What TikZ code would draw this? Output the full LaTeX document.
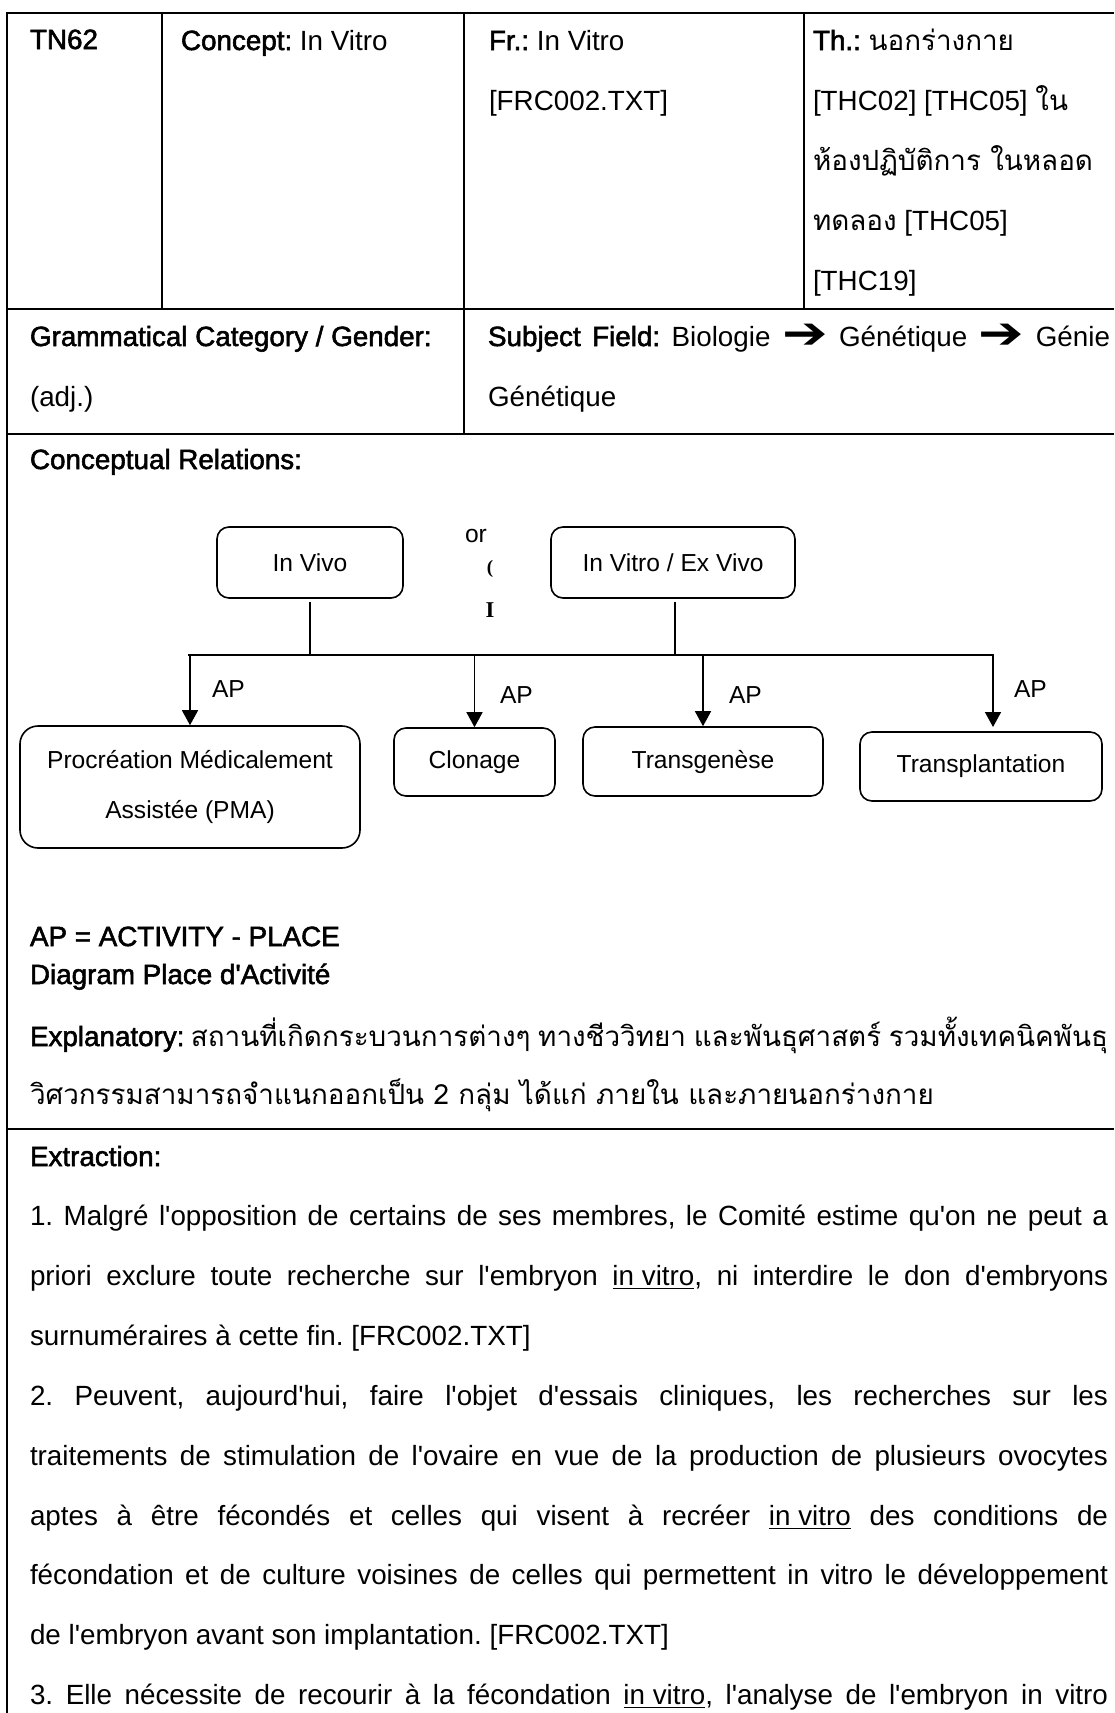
\documentclass[tikz,border=0pt]{standalone}
\usepackage{fontspec}
\usepackage{graphicx}
\usetikzlibrary{arrows.meta}
\setmainfont{Liberation Sans}[Ligatures=TeXOff]
\newfontfamily\lblfont{Liberation Sans}[Ligatures=TeXOff,FakeBold=2]
\newfontfamily\thai[Script=Thai]{Loma}
\newfontfamily\dingfont{DejaVu Sans}
\newfontfamily\oddserif{Liberation Serif}
\newcommand\bodysize{\fontsize{13.9pt}{16pt}\selectfont}
\newcommand\diagsize{\fontsize{12.3pt}{25pt}\selectfont}
\newcommand\headtxt[1]{{\lblfont #1}}
\newcommand\fieldarrow{\raisebox{-1pt}{\scalebox{1.6}[1.3]{\dingfont\bfseries\fontsize{17pt}{17pt}\selectfont ➔}}}
\newcommand\jline[1]{\makebox[539pt][s]{#1}}
\frenchspacing

\begin{document}
\begin{tikzpicture}[x=0.5pt,y=-0.5pt,
  rule/.style={line width=0.85pt},
  txt/.style={anchor=base west,inner sep=0pt,outer sep=0pt,font=\bodysize},
  dtxt/.style={anchor=base west,inner sep=0pt,outer sep=0pt,font=\diagsize},
  concept/.style={draw,line width=0.8pt,rounded corners=6pt,inner sep=0pt,
    align=center,font=\diagsize},
  wire/.style={line width=0.75pt},
  bus/.style={line width=1.1pt},
  drop/.style={line width=0.75pt,-{Triangle[length=7.5pt,width=8pt]}},
]
\useasboundingbox (0,0) rectangle (1114,1713);

% ---- table frame ----
\draw[rule] (1114,13) -- (7,13) -- (7,1713);
\draw[rule] (7,309) -- (1114,309);
\draw[rule] (7,434) -- (1114,434);
\draw[rule] (7,1129) -- (1114,1129);
\draw[rule] (162,13) -- (162,309);
\draw[rule] (464,13) -- (464,434);
\draw[rule] (804,13) -- (804,309);

% ---- row 1 ----
\node[txt] (tn) at (30,49) {\headtxt{TN62}};
\node[txt] (concepttxt) at (181,50) {\headtxt{Concept:} In Vitro};
\node[txt] (fr1) at (489,50) {\headtxt{Fr.:} In Vitro};
\node[txt] (fr2) at (489,110) {[FRC002.TXT]};
\node[txt] (th1) at (813,50) {\headtxt{Th.:} {\thai นอกร่างกาย}};
\node[txt] (th2) at (813,110) {[THC02] [THC05] {\thai ใน}};
\node[txt] (th3) at (813,170) {\thai ห้องปฏิบัติการ ในหลอด};
\node[txt] (th4) at (813,230) {{\thai ทดลอง} [THC05]};
\node[txt] (th5) at (813,290) {[THC19]};

% ---- row 2 ----
\node[txt] (gc1) at (30,346) {\headtxt{Grammatical Category / Gender:}};
\node[txt] (gc2) at (30,406) {(adj.)};
\node[txt] (sf1) at (488,346) {\makebox[311pt][s]{\headtxt{Subject Field:} Biologie \fieldarrow{} Génétique \fieldarrow{} Génie}};
\node[txt] (sf2) at (488,406) {Génétique};

% ---- row 3: conceptual relations ----
\node[txt] (cr) at (30,469) {\headtxt{Conceptual Relations:}};

\node[concept,minimum width=93pt,minimum height=35.5pt] (invivo) at (310,562.5) {In Vivo};
\node[concept,minimum width=122pt,minimum height=35.5pt] (invitro) at (673,562.5) {In Vitro / Ex Vivo};
\node[dtxt] (orword) at (465,542) {or};
\node[inner sep=0pt,font={\oddserif\bfseries\fontsize{9.5pt}{10pt}\selectfont}] (orparen) at (490,569) {(};
\node[inner sep=0pt,font={\oddserif\bfseries\fontsize{11.3pt}{12pt}\selectfont}] (orbar) at (490,610) {I};

\node[concept,minimum width=170pt,minimum height=61pt,rounded corners=9pt] (pma) at (190,787)
  {Procréation Médicalement\\Assistée (PMA)};
\node[concept,minimum width=80.5pt,minimum height=34pt] (clonage) at (474.5,762) {Clonage};
\node[concept,minimum width=120pt,minimum height=34.5pt] (transgenese) at (703,761.5) {Transgenèse};
\node[concept,minimum width=121pt,minimum height=34.5pt] (transplant) at (981,766.5) {Transplantation};

\coordinate (busl) at (188,655);
\coordinate (busr) at (994,655);
\coordinate (vitrojoin) at (675,655);
\coordinate (d1) at (190,655);
\coordinate (d2) at (474.5,655);
\coordinate (d3) at (703,655);
\coordinate (d4) at (993,655);
\coordinate (e4) at (993,727);

\draw[wire] ([yshift=-1.5pt]invivo.south) -- (invivo.south |- busl);
\draw[wire] ([xshift=1pt,yshift=-1.5pt]invitro.south) -- (vitrojoin);
\draw[bus] (busl) -- (busr);
\draw[drop] (d1) -- (pma.north);
\draw[drop] (d2) -- (clonage.north);
\draw[drop] (d3) -- (transgenese.north);
\draw[drop] (d4) -- (e4);

\node[dtxt] (ap1) at (212,697) {AP};
\node[dtxt] (ap2) at (500,703) {AP};
\node[dtxt] (ap3) at (729,703) {AP};
\node[dtxt] (ap4) at (1014,697) {AP};

\node[txt] (apdef) at (30,946) {\headtxt{AP = ACTIVITY - PLACE}};
\node[txt] (dpa) at (30,984) {\headtxt{Diagram Place d'Activité}};
\node[txt] (ex1) at (30,1046) {\jline{\headtxt{Explanatory:} {\thai สถานที่เกิดกระบวนการต่างๆ ทางชีววิทยา และพันธุศาสตร์ รวมทั้งเทคนิคพันธุ}}};
\node[txt] (ex2) at (30,1104) {\thai วิศวกรรมสามารถจำแนกออกเป็น 2 กลุ่ม ได้แก่ ภายใน และภายนอกร่างกาย};

% ---- row 4: extraction ----
\node[txt] (xt) at (30,1166) {\headtxt{Extraction:}};
\node[txt] (x1) at (30,1225.8) {\jline{1. Malgré l'opposition de certains de ses membres, le Comité estime qu'on ne peut a}};
\node[txt] (x2) at (30,1285.7) {\jline{priori exclure toute recherche sur l'embryon \underline{in vitro}, ni interdire le don d'embryons}};
\node[txt] (x3) at (30,1345.5) {surnuméraires à cette fin. [FRC002.TXT]};
\node[txt] (x4) at (30,1405.3) {\jline{2. Peuvent, aujourd'hui, faire l'objet d'essais cliniques, les recherches sur les}};
\node[txt] (x5) at (30,1465.2) {\jline{traitements de stimulation de l'ovaire en vue de la production de plusieurs ovocytes}};
\node[txt] (x6) at (30,1525) {\jline{aptes à être fécondés et celles qui visent à recréer \underline{in vitro} des conditions de}};
\node[txt] (x7) at (30,1584.8) {\jline{fécondation et de culture voisines de celles qui permettent in vitro le développement}};
\node[txt] (x8) at (30,1644.7) {de l'embryon avant son implantation. [FRC002.TXT]};
\node[txt] (x9) at (30,1704.5) {\jline{3. Elle nécessite de recourir à la fécondation \underline{in vitro}, l'analyse de l'embryon in vitro}};
\end{tikzpicture}
\end{document}
